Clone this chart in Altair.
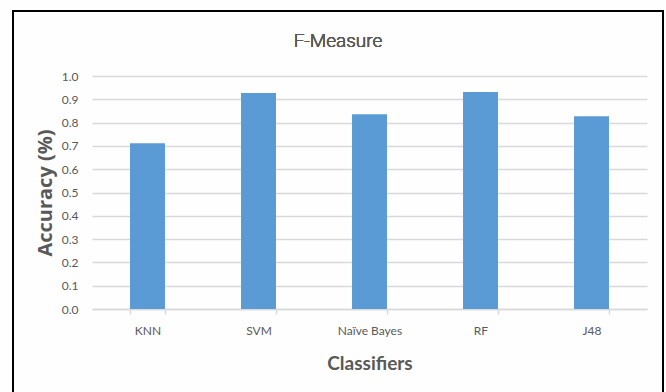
import altair as alt
import pandas as pd

# F-measure per classifier
classifiers = ["KNN", "SVM", "Naïve Bayes", "RF", "J48"]
f_measure = [0.711, 0.927, 0.836, 0.931, 0.827]
chart_title = "F-Measure"

df = pd.DataFrame({"Classifier": classifiers, "Value": f_measure})

FONT = "Lato"
TEXT = "#595959"
GRID = "#d9d9d9"

x_enc = alt.X(
    "Classifier:N",
    sort=classifiers,
    scale=alt.Scale(paddingInner=0.685, paddingOuter=0.3425),
    axis=alt.Axis(
        title="Classifiers",
        titleFont=FONT,
        titleFontSize=19,
        titleFontWeight="bold",
        titleColor=TEXT,
        titlePadding=18,
        labelFont=FONT,
        labelFontSize=12,
        labelColor=TEXT,
        labelAngle=0,
        labelPadding=11,
        domainColor=GRID,
        domainWidth=1.5,
        tickColor=GRID,
        tickWidth=1.5,
        tickSize=5,
        tickBand="extent",
        grid=False,
    ),
)

y_enc = alt.Y(
    "Value:Q",
    scale=alt.Scale(domain=[0, 1]),
    axis=alt.Axis(
        title="Accuracy (%)",
        titleFont="Open Sans",
        titleFontSize=20,
        titleFontWeight="bold",
        titleColor=TEXT,
        titlePadding=6,
        labelFont=FONT,
        labelFontSize=12,
        labelColor=TEXT,
        labelPadding=14,
        format=".1f",
        values=[i / 10 for i in range(11)],
        domain=False,
        ticks=False,
        grid=True,
        gridColor=GRID,
        gridWidth=1.5,
    ),
)

# outline of the chart card
frame = alt.Chart(df).mark_rect(
    fillOpacity=0, stroke="black", strokeWidth=2, clip=False
).encode(
    x=alt.value(-79), x2=alt.value(571), y=alt.value(-65), y2=alt.value(90 + 233)
)

# heading, centred on the card, in a light face
heading = alt.Chart(df).mark_text(
    text=chart_title, font="Roboto", fontSize=19, fontWeight=300, color=TEXT,
    align="center", baseline="middle"
).encode(x=alt.value(246), y=alt.value(-35))

bars = alt.Chart(df).mark_bar(color="#5b9bd5").encode(x=x_enc, y=y_enc)

chart = (
    alt.layer(frame, bars, heading)
    .properties(
        width=555,
        height=233,
        autosize=alt.AutoSizeParams(type="none"),
        padding={"left": 92, "top": 76, "right": 19, "bottom": 83},
        background="#fefefe",
    )
    .configure_view(stroke=None)
)

chart.save("out.html", embed_options={"renderer": "svg", "actions": False})
